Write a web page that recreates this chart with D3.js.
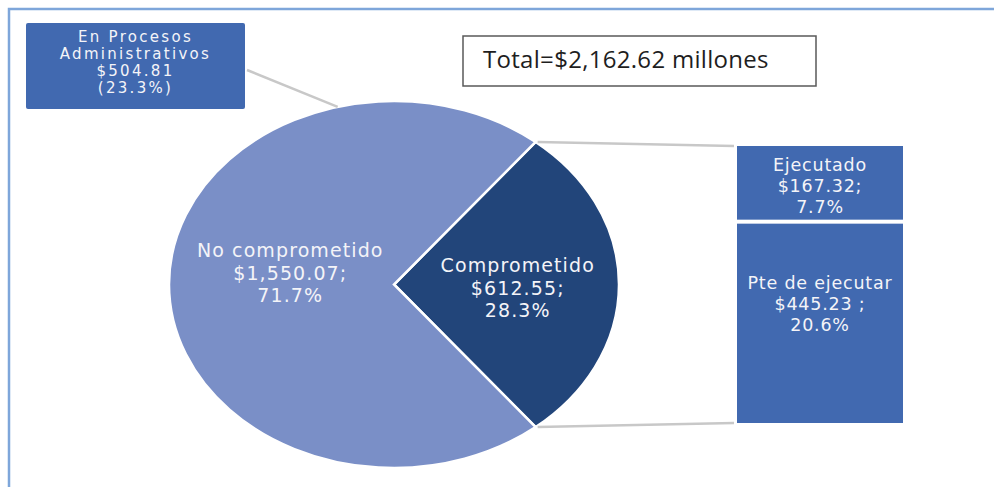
<!DOCTYPE html>
<html>
<head>
  <meta charset="utf-8">
  <script src="https://cdnjs.cloudflare.com/ajax/libs/d3/7.8.5/d3.min.js"></script>
  <style>
    body { margin: 0; background: #fff; }
    svg { display: block; }
    .lbl { font-family: "DejaVu Sans", sans-serif; fill: #f4f4f8; text-anchor: middle; dominant-baseline: central; }
  </style>
</head>
<body>
<svg id="chart" width="994" height="487"></svg>

<script>
  // data (millones)
  var total = 2162.62;
  var categories = ['Comprometido', 'No comprometido'];
  var values = [612.55, 1550.07];
  var shares = ['28.3%', '71.7%'];
  var valueText = ['$612.55;', '$1,550.07;'];

  var subCategories = ['Ejecutado', 'Pte de ejecutar'];
  var subValues = [167.32, 445.23];
  var subShares = ['7.7%', '20.6%'];
  var subValueText = ['$167.32;', '$445.23 ;'];

  var processLines = ['En Procesos', 'Administrativos'];
  var processValue = 504.81;
  var processShare = '(23.3%)';

  var colors = ['#22457a', '#7a8fc7'];
  var boxColor = '#4169b0';

  var svg = d3.select('#chart');
  var cx = 394, cy = 284.5, rx = 225, ry = 183.5;
  var fmt = d3.format(',.2f');

  // frame
  svg.append('rect')
    .attr('x', 9).attr('y', 9).attr('width', 1000).attr('height', 500)
    .attr('fill', 'none').attr('stroke', '#7ea6da').attr('stroke-width', 2.5);

  // comprometido centred at 3 o'clock
  var a0 = Math.PI / 2 - (values[0] / total) * Math.PI;
  var pie = d3.pie().sort(null).startAngle(a0).endAngle(a0 + 2 * Math.PI);
  var arcs = pie(values);
  var arc = d3.arc().innerRadius(0).outerRadius(ry);

  function edge(a) {
    return [cx + rx * Math.sin(a), cy - ry * Math.cos(a)];
  }

  var pg = svg.append('g')
    .attr('transform', 'translate(' + cx + ',' + cy + ') scale(' + (rx / ry) + ',1)');

  pg.selectAll('path')
    .data(arcs)
    .enter().append('path')
    .attr('d', arc)
    .attr('fill', function(d, i) { return colors[i]; })
    .attr('stroke', '#fff')
    .attr('stroke-width', 2.5)
    .attr('vector-effect', 'non-scaling-stroke');

  // slice labels
  var labelArc = d3.arc().innerRadius(ry * 0.55).outerRadius(ry * 0.55);
  var nudge = [[0, 3], [20, -12]];
  arcs.forEach(function(d, i) {
    var c = labelArc.centroid(d);
    var x = cx + c[0] * rx / ry + nudge[i][0];
    var y = cy + c[1] + nudge[i][1];
    var lines = [categories[i], valueText[i], shares[i]];
    var t = svg.append('text').attr('class', 'lbl')
      .style('font-size', '19px').style('letter-spacing', '1.1px');
    lines.forEach(function(s, k) {
      t.append('tspan').attr('x', x).attr('y', y + (k - 1) * 22.5).text(s);
    });
  });

  // breakdown of comprometido
  var bx = 737, bw = 166;
  var ys = d3.scaleLinear().domain([0, values[0]]).range([146, 423]);
  var textTop = [19, 59];
  var cum = 0;
  subValues.forEach(function(v, i) {
    var y0 = ys(cum) + (i > 0 ? 2 : 0);
    var y1 = ys(cum + v) - (i < subValues.length - 1 ? 2 : 0);
    cum += v;
    svg.append('rect')
      .attr('x', bx).attr('y', y0).attr('width', bw).attr('height', y1 - y0)
      .attr('fill', boxColor);
    var t = svg.append('text').attr('class', 'lbl')
      .style('font-size', '17.5px').style('letter-spacing', '0.8px');
    [subCategories[i], subValueText[i], subShares[i]].forEach(function(s, k) {
      t.append('tspan').attr('x', bx + bw / 2).attr('y', y0 + textTop[i] + k * 21).text(s);
    });
  });

  // leader lines to the breakdown boxes
  var pTop = edge(arcs[0].startAngle), pBot = edge(arcs[0].endAngle);
  svg.append('line')
    .attr('x1', pTop[0] + 2).attr('y1', pTop[1]).attr('x2', bx - 3).attr('y2', ys(0))
    .attr('stroke', '#c8c8c8').attr('stroke-width', 2.5);
  svg.append('line')
    .attr('x1', pBot[0] + 2).attr('y1', pBot[1]).attr('x2', bx - 3).attr('y2', ys(values[0]))
    .attr('stroke', '#c8c8c8').attr('stroke-width', 2.5);

  // en procesos administrativos
  var px = 26, py = 23, pw = 219, ph = 86;
  var lead = edge(-14.5 * Math.PI / 180);
  svg.append('line')
    .attr('x1', px + pw + 2).attr('y1', 70).attr('x2', lead[0]).attr('y2', lead[1])
    .attr('stroke', '#c8c8c8').attr('stroke-width', 2.5);
  svg.append('rect')
    .attr('x', px).attr('y', py).attr('width', pw).attr('height', ph)
    .attr('rx', 2).attr('fill', boxColor);
  var pt = svg.append('text').attr('class', 'lbl')
    .style('font-size', '15px').style('letter-spacing', '2.3px');
  processLines.concat(['$' + fmt(processValue), processShare]).forEach(function(s, k) {
    pt.append('tspan').attr('x', px + pw / 2).attr('y', 37 + k * 17).text(s);
  });

  // total box
  svg.append('rect')
    .attr('x', 463).attr('y', 36).attr('width', 353).attr('height', 50)
    .attr('fill', '#fff').attr('stroke', '#595959').attr('stroke-width', 1.5);
  svg.append('text')
    .attr('x', 483).attr('y', 68)
    .style('font-family', '"Open Sans", sans-serif')
    .style('font-size', '24px')
    .style('letter-spacing', '0.3px')
    .attr('fill', '#1e1e1e')
    .text('Total=$' + fmt(total) + ' millones');
</script>
</body>
</html>
